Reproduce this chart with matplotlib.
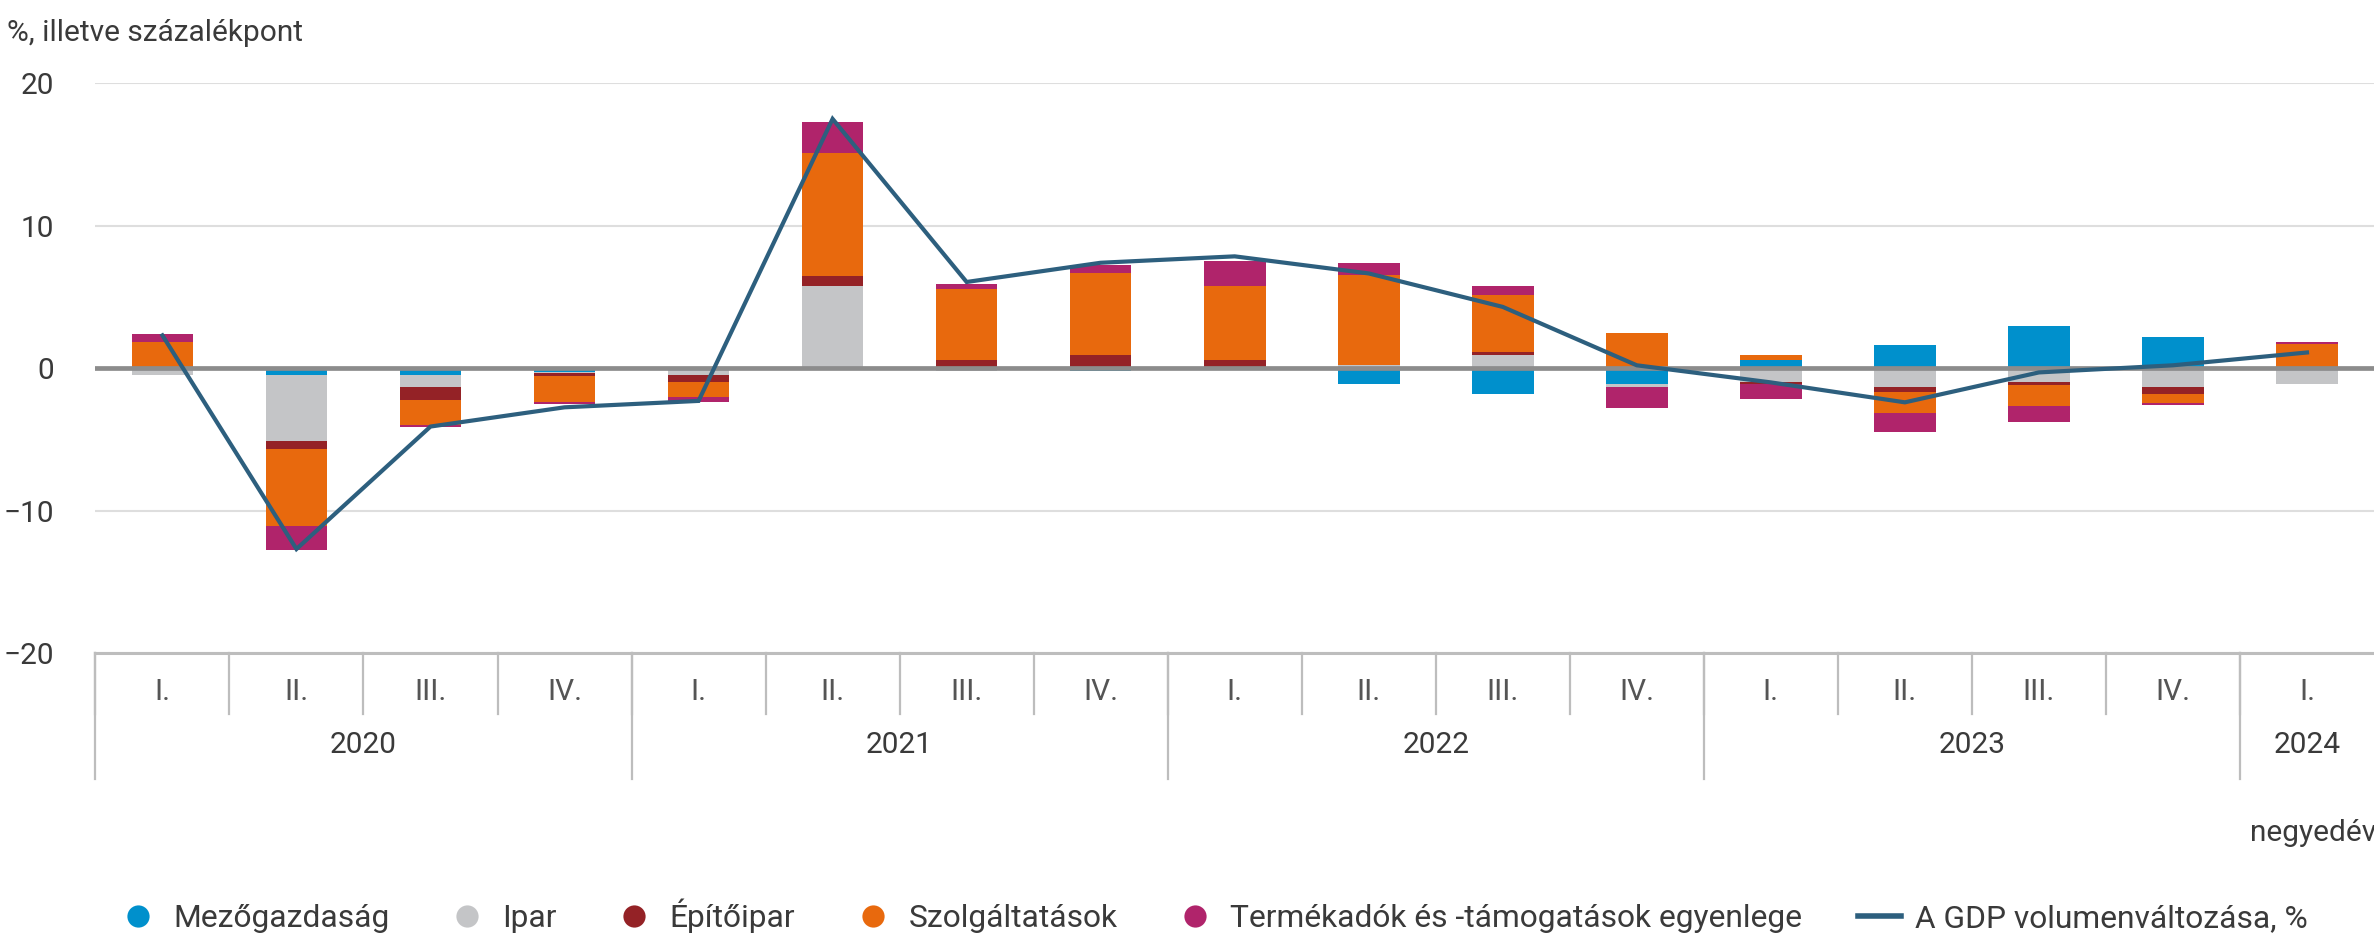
import numpy as np
import matplotlib
matplotlib.use('Agg')
import matplotlib.pyplot as plt
from matplotlib.lines import Line2D
import matplotlib.transforms as mtransforms

plt.rcParams['font.family'] = ['Roboto', 'DejaVu Sans']

# negyedévek
quarters = ['I.', 'II.', 'III.', 'IV.'] * 4 + ['I.']
years = ['2020', '2021', '2022', '2023', '2024']
year_start = [0, 4, 8, 12, 16]
year_len = [4, 4, 4, 4, 1]

# hozzájárulás a GDP változásához, százalékpont
mezo = [-0.1, -0.5, -0.45, -0.25, -0.15, -0.1, -0.05, -0.2, -0.15, -1.1, -1.85, -1.1, 0.55, 1.65, 2.95, 2.2, 0.0]
ipar = [-0.4, -4.6, -0.9, -0.1, -0.3, 5.75, -0.15, 0.0, 0.0, 0.2, 0.9, -0.2, -0.95, -1.3, -0.95, -1.3, -1.1]
epito = [0.1, -0.6, -0.9, -0.2, -0.5, 0.75, 0.55, 0.9, 0.55, 0.0, 0.2, 0.1, -0.15, -0.4, -0.2, -0.55, 0.1]
szolg = [1.75, -5.4, -1.75, -1.85, -1.1, 8.6, 5.0, 5.8, 5.2, 6.35, 4.05, 2.35, 0.35, -1.45, -1.5, -0.6, 1.6]
termek = [0.55, -1.65, -0.15, -0.15, -0.35, 2.15, 0.35, 0.55, 1.75, 0.85, 0.6, -1.5, -1.1, -1.35, -1.1, -0.15, 0.15]
# GDP volumenváltozás, %
gdp = [2.3, -12.7, -4.1, -2.75, -2.3, 17.5, 6.05, 7.4, 7.85, 6.65, 4.3, 0.2, -1.0, -2.4, -0.3, 0.2, 1.1]

series = [
    ('Mezőgazdaság', mezo, '#0090cc'),
    ('Ipar', ipar, '#c4c5c7'),
    ('Építőipar', epito, '#942226'),
    ('Szolgáltatások', szolg, '#e8690d'),
    ('Termékadók és -támogatások egyenlege', termek, '#b0246b'),
]
line_color = '#2d5f7e'
text_color = '#3a3a3a'
fs = 21.5

W, H = 2374, 938
fig = plt.figure(figsize=(W / 100, H / 100), dpi=100)
ax = fig.add_axes([95.4 / W, 1 - 653 / H, 1 - 95.4 / W, (653 - 83.3) / H])

x = np.arange(len(quarters))
pos = np.zeros(len(x))
neg = np.zeros(len(x))
for name, vals, col in series:
    v = np.array(vals)
    bottom = np.where(v >= 0, pos, neg)
    ax.bar(x, v, width=0.46, bottom=bottom, color=col, zorder=2, linewidth=0)
    pos = pos + np.clip(v, 0, None)
    neg = neg + np.clip(v, None, 0)

ax.axhline(0, color='#8c8c8c', lw=3.4, zorder=3)
ax.plot(x, gdp, color=line_color, lw=3.0, zorder=4, solid_joinstyle='miter')

ax.set_xlim(-0.5, len(x) - 0.5)
ax.set_ylim(-20, 20)
ax.set_yticks([-20, -10, 0, 10, 20])
ax.grid(axis='y', color='#dedede', lw=1.5, zorder=0)
ax.tick_params(axis='y', length=0, pad=30, labelsize=fs, labelcolor=text_color)
ax.set_xticks([])
for s in ['top', 'right', 'left']:
    ax.spines[s].set_visible(False)
ax.spines['bottom'].set_color('#bdbdbd')
ax.spines['bottom'].set_linewidth(2.2)

# kétszintű kategóriatengely
trans = mtransforms.blended_transform_factory(ax.transData, ax.transAxes)
ah = 653 - 83.3
for i, q in enumerate(quarters):
    ax.text(i, (653 - 692) / ah, q, transform=trans, ha='center', va='center',
            fontsize=fs, color='#555555')
for k in range(len(x)):
    ax.plot([k - 0.5, k - 0.5], [0, (653 - 714) / ah], transform=trans,
            color='#bdbdbd', lw=1.6, clip_on=False)
for yr, st, ln in zip(years, year_start, year_len):
    ax.plot([st - 0.5, st - 0.5], [0, (653 - 779) / ah], transform=trans,
            color='#bdbdbd', lw=1.6, clip_on=False)
    ax.text(st + ln / 2 - 0.5, (653 - 745) / ah, yr, transform=trans,
            ha='center', va='center', fontsize=fs, color=text_color)

fig.text(7 / W, 1 - 33 / H, '%, illetve százalékpont', ha='left', va='center',
         fontsize=fs, color=text_color)
fig.text(2250 / W, 1 - 833 / H, 'negyedév', ha='left', va='center',
         fontsize=fs, color=text_color)

handles = [Line2D([], [], ls='none', marker='o', ms=16, color=col, markeredgewidth=0)
           for _, _, col in series]
handles.append(Line2D([], [], color=line_color, lw=4))
labels = [s[0] for s in series] + ['A GDP volumenváltozása, %']
fig.legend(handles, labels, loc='center', bbox_to_anchor=(1212 / W, 1 - 916 / H),
           ncol=6, frameon=False, fontsize=22.9, handlelength=1.35, handletextpad=0.45,
           columnspacing=1.75, labelcolor=text_color)

fig.savefig('out.png', dpi=100)
